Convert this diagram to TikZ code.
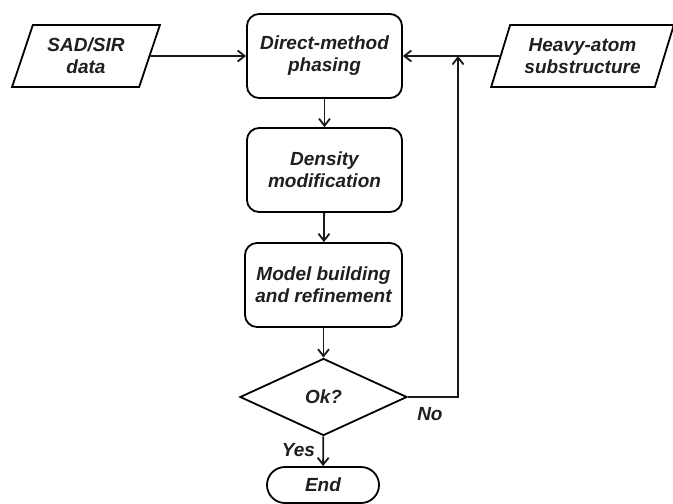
\documentclass[tikz,border=0pt]{standalone}
\usepackage{fontspec}
\setmainfont{Liberation Sans}
\usepackage{tikz}
\usetikzlibrary{shapes.geometric,arrows.meta}

\begin{document}
\begin{tikzpicture}[x=1pt,y=-1pt,>={Straight Barb[length=7pt,width=11pt]},
  every node/.style={font=\bfseries\itshape\fontsize{19}{22}\selectfont,text=black!88},
  process/.style={draw,line width=1.8pt,rounded corners=12pt,minimum width=155pt,minimum height=84pt,align=center},
  io/.style={draw,line width=1.8pt,trapezium,trapezium left angle=69,trapezium right angle=111,
    trapezium stretches=true,minimum height=62pt,align=center},
  decision/.style={draw,line width=1.8pt,diamond,minimum width=167pt,minimum height=77pt,inner sep=0pt},
  terminal/.style={draw,line width=1.8pt,rounded corners=18pt,minimum width=112pt,minimum height=36pt},
  flow/.style={->,line width=1.8pt,black!90}]
        \useasboundingbox (0,0) rectangle (673,504);
        \node[io,minimum width=148pt] (sad) at (86,56) {SAD/SIR\\data};
        \node[process] (direct) at (324.5,56) {Direct-method\\phasing};
        \node[io,minimum width=183pt] (heavy) at (582.5,56) {Heavy-atom\\substructure};
        \node[process] (density) at (324.5,170) {Density\\modification};
        \node[process,minimum width=157pt] (model) at (323.5,285) {Model building\\and refinement};
        \node[decision] (ok) at (323.5,397) {Ok?};
        \node[terminal] (end) at (323,485) {End};
        \coordinate (join) at (458,56);
        \draw[flow] (sad) -- (direct);
        \draw[flow] (heavy) -- (direct);
        \draw[flow] (direct) -- (density);
        \draw[flow] (density) -- (model);
        \draw[flow] (model) -- (ok);
        \draw[flow] (ok) -- (end) node [pos=0.45,left=4pt] {Yes};
        \draw[flow] (ok.east) -| (join) node [pos=0.12,below=6pt,xshift=10pt] {No};
\end{tikzpicture}
\end{document}
